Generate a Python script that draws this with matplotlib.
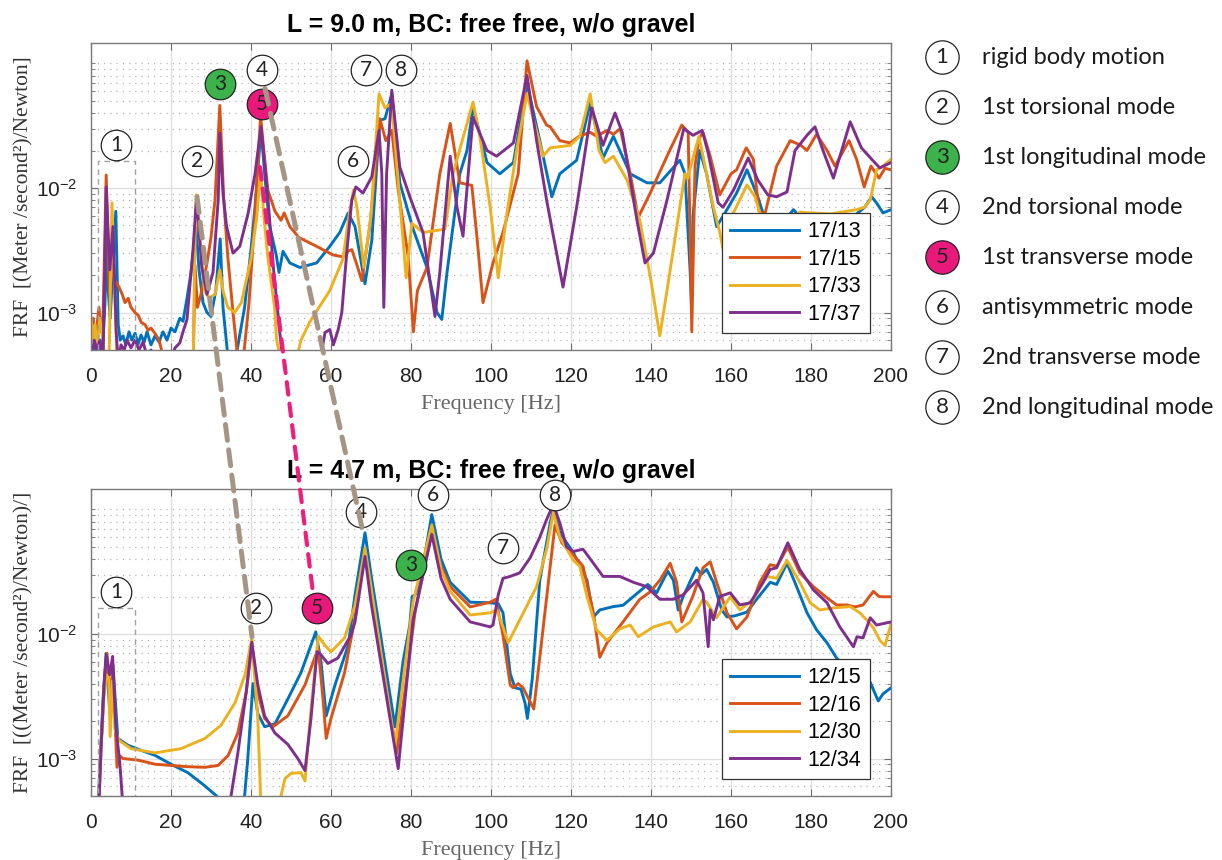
import numpy as np
import matplotlib.pyplot as plt
from matplotlib.lines import Line2D
from matplotlib.patches import ConnectionPatch

plt.rcParams['font.family'] = ['Liberation Sans', 'DejaVu Sans']
plt.rcParams['mathtext.fontset'] = 'custom'
plt.rcParams['mathtext.rm'] = 'Liberation Sans'
plt.rcParams['mathtext.it'] = 'Liberation Sans:italic'
plt.rcParams['mathtext.bf'] = 'Liberation Sans:bold'

# ---------------- data: top plot, L = 9.0 m ----------------
f_t13 = [0, 0.5, 1, 1.5, 2, 2.5, 3, 3.5, 3.9, 4.3, 4.8, 5.3, 6.2, 6.8, 7.3, 8, 8.7, 9.5, 10.2, 11, 11.8,
         12.5, 13.3, 14, 15, 16, 17, 18, 19, 20, 21, 22.2, 23, 24, 25, 26.3, 27, 28, 29, 30, 31.2, 32.3,
         33, 34.2, 36, 38.4, 40, 41, 42.5, 43.5, 44.7, 46.3, 47, 48, 49.7, 52.2, 56.4, 59.7, 62.2, 64.3,
         66, 68.5, 70.2, 72.2, 73.5, 75.2, 77.2, 80.6, 84, 86.5, 87.7, 89, 90.5, 92.2, 94, 95.5, 99,
         102.2, 105.6, 109, 112.2, 115.2, 117.2, 121.4, 124.8, 128, 130.6, 134.8, 139, 142.2, 147.2,
         148.5, 149.8, 150.1, 150.5, 152.2, 153.9, 156.4, 158.5, 161.4, 164, 166.7, 169, 172, 175.6,
         177, 180, 184, 188, 190.6, 193.4, 195.2, 196.5, 198, 200]
a_t13 = [0.0006, 0.0009, 0.0005, 0.0007, 0.00048, 0.0006, 0.0006, 0.0012, 0.005, 0.0015, 0.0009, 0.0018,
         0.0065, 0.0008, 0.0006, 0.00065, 0.00055, 0.0007, 0.0006, 0.00068, 0.00056, 0.00066, 0.00058,
         0.0007, 0.00055, 0.00065, 0.00058, 0.0007, 0.0006, 0.00075, 0.0007, 0.0009, 0.00085, 0.0013,
         0.0021, 0.0048, 0.0022, 0.0012, 0.001, 0.00093, 0.0015, 0.0039, 0.0011, 0.00045, 0.0004, 0.0011,
         0.0032, 0.007, 0.03, 0.012, 0.0049, 0.0029, 0.0021, 0.0031, 0.0025, 0.0023, 0.0025, 0.0034,
         0.0044, 0.0063, 0.0049, 0.0017, 0.0038, 0.035, 0.036, 0.057, 0.011, 0.0046, 0.0023, 0.001,
         0.00088, 0.0021, 0.0049, 0.013, 0.02, 0.045, 0.016, 0.013, 0.016, 0.069, 0.024, 0.0085, 0.013,
         0.0167, 0.048, 0.0174, 0.026, 0.013, 0.011, 0.011, 0.0167, 0.013, 0.0021, 0.0012, 0.006, 0.02,
         0.013, 0.0049, 0.0063, 0.0091, 0.014, 0.0085, 0.005, 0.0048, 0.0067, 0.006, 0.0062, 0.0058,
         0.006, 0.0059, 0.007, 0.0085, 0.0075, 0.0063, 0.0067]

f_t15 = [0, 0.5, 1, 1.5, 2, 2.5, 3, 3.8, 4.6, 5.2, 6, 7, 7.8, 8.5, 9.3, 10, 11, 11.8, 12.6, 13.5, 14.3,
         15, 16, 17, 18, 20, 25.5, 26, 26.6, 27.5, 29, 30, 31, 32.2, 33.2, 34.2, 35.5, 36.8, 38, 39.5,
         41, 42.4, 43.2, 44.2, 46, 47.5, 48.3, 49.7, 52, 56.4, 60.5, 63, 64.2, 65.2, 66.5, 67.7, 69.7,
         71, 72.2, 73.7, 75.2, 76.8, 79.3, 80.6, 81.6, 84, 87.2, 89.8, 92.2, 95.2, 96.5, 98, 100.5, 103,
         106.8, 109, 111.4, 113.9, 114.8, 117.2, 119.8, 122, 124.8, 126.4, 129, 130.6, 132.3, 134.8,
         136.8, 139.8, 144, 147.7, 149.3, 150.2, 151, 152, 153, 154.8, 157.2, 160, 161.4, 163.8, 165.6,
         167, 168.5, 171.4, 174.8, 177.5, 179, 181.4, 184, 186, 189.5, 191.4, 193.3, 195, 197, 198.5, 200]
a_t15 = [0.0007, 0.0009, 0.0006, 0.0008, 0.0011, 0.0007, 0.0009, 0.0127, 0.0014, 0.0022, 0.0018, 0.0016,
         0.0014, 0.0012, 0.0013, 0.0011, 0.001, 0.00095, 0.00083, 0.0008, 0.00072, 0.00075, 0.00068,
         0.0006, 0.00045, 0.0003, 0.0003, 0.0024, 0.0011, 0.0014, 0.0025, 0.004, 0.008, 0.046, 0.008,
         0.0028, 0.001, 0.0004, 0.0004, 0.0012, 0.006, 0.038, 0.02, 0.0096, 0.0065, 0.0055, 0.0063,
         0.0049, 0.004, 0.0034, 0.0029, 0.0028, 0.0031, 0.0032, 0.0024, 0.0018, 0.0049, 0.013, 0.036,
         0.024, 0.029, 0.0097, 0.0028, 0.0007, 0.0015, 0.0023, 0.013, 0.033, 0.011, 0.0105, 0.004,
         0.0012, 0.0025, 0.0044, 0.013, 0.105, 0.045, 0.032, 0.031, 0.024, 0.023, 0.026, 0.028, 0.026,
         0.029, 0.027, 0.03, 0.013, 0.0058, 0.0091, 0.018, 0.032, 0.028, 0.0007, 0.015, 0.025, 0.028,
         0.018, 0.0088, 0.013, 0.014, 0.021, 0.017, 0.0065, 0.0062, 0.015, 0.024, 0.022, 0.02, 0.027,
         0.02, 0.015, 0.024, 0.017, 0.0102, 0.015, 0.012, 0.0144, 0.014]

f_t33 = [0, 0.5, 1, 1.5, 2.2, 3, 3.5, 4.5, 5.25, 5.8, 6.5, 10, 25.5, 26, 26.3, 27.2, 28.4, 29.5, 31, 32.2,
         33, 34.2, 35.9, 37.6, 40, 41.5, 42.4, 43.2, 44.2, 45.9, 46.4, 47.6, 51.2, 52.5, 54.7, 57, 59.7,
         63, 64.5, 65.6, 66.5, 68.2, 70, 72, 73.5, 75.2, 76.4, 78.8, 80.2, 83, 87.2, 88.5, 90.5, 95.5,
         97.2, 99.8, 101.8, 104, 106.4, 109, 113, 114.8, 119.8, 122.2, 124.8, 127, 128.5, 130.6, 134,
         137.2, 140, 142.2, 144, 147.2, 148.5, 149.2, 150.4, 152, 153.9, 155.6, 157.2, 158.2, 160.6, 164,
         166, 167.2, 170, 173, 177.2, 180, 185, 191.4, 193.4, 194.8, 196.4, 198, 200]
a_t33 = [0.0009, 0.0006, 0.0008, 0.0005, 0.0009, 0.0006, 0.0004, 0.0004, 0.0076, 0.002, 0.0004, 0.0003,
         0.0003, 0.004, 0.0088, 0.0038, 0.0015, 0.0013, 0.0014, 0.0022, 0.0015, 0.0011, 0.001, 0.0012,
         0.0027, 0.006, 0.0145, 0.006, 0.0028, 0.0011, 0.0006, 0.0004, 0.0004, 0.0006, 0.00084, 0.0011,
         0.0015, 0.0027, 0.006, 0.0096, 0.007, 0.0023, 0.006, 0.057, 0.044, 0.048, 0.016, 0.0019, 0.0052,
         0.0044, 0.0046, 0.0047, 0.013, 0.049, 0.026, 0.007, 0.0019, 0.0063, 0.02, 0.057, 0.018, 0.021,
         0.022, 0.026, 0.057, 0.02, 0.016, 0.018, 0.0116, 0.0055, 0.0018, 0.00065, 0.0015, 0.007, 0.013,
         0.012, 0.017, 0.026, 0.013, 0.007, 0.0044, 0.003, 0.0063, 0.0106, 0.0085, 0.0063, 0.0045, 0.005,
         0.0064, 0.0063, 0.0062, 0.0067, 0.007, 0.008, 0.014, 0.015, 0.017]

f_t37 = [0, 0.8, 1.5, 2.2, 3, 3.8, 4.7, 5.5, 6.3, 6.8, 7.5, 8.3, 9, 10, 11, 12, 13, 14, 15, 16, 19.7, 21,
         22.2, 23, 24, 25.5, 26.4, 27.7, 29, 30.5, 31.8, 32.2, 33, 33.9, 35.5, 37.2, 39.3, 41, 42.5, 44,
         45.6, 47.2, 48, 57.2, 58.5, 59.7, 60.6, 61.8, 62.7, 64, 65.2, 66.2, 68, 70.2, 72, 72.7, 73.2,
         73.9, 75.2, 77.2, 79.7, 83, 86, 87.2, 89.8, 91.5, 93, 95.5, 99, 101.4, 105.6, 109, 111.4, 113.9,
         118, 121.4, 125.2, 128, 131, 132.8, 136.5, 138.5, 140.6, 144, 148.2, 150.5, 152.8, 154.3, 156.8,
         158, 160.6, 164.3, 166.7, 169.2, 171.4, 174, 176, 179, 181, 183, 185.6, 189.8, 192.6, 195.4,
         197.2, 200]
a_t37 = [0.0004, 0.0006, 0.0005, 0.0006, 0.0004, 0.0102, 0.0022, 0.0049, 0.0007, 0.0004, 0.00055, 0.0005,
         0.0006, 0.00052, 0.0006, 0.0005, 0.00058, 0.00045, 0.0005, 0.0004, 0.0004, 0.00052, 0.00057,
         0.0007, 0.00088, 0.0032, 0.0085, 0.0023, 0.0014, 0.0021, 0.008, 0.0275, 0.009, 0.0049, 0.003,
         0.0034, 0.0063, 0.013, 0.031, 0.0102, 0.0023, 0.00069, 0.0004, 0.0004, 0.00069, 0.00073,
         0.00055, 0.00073, 0.001, 0.0032, 0.008, 0.0102, 0.0091, 0.0123, 0.029, 0.013, 0.0011, 0.013,
         0.061, 0.0147, 0.0085, 0.0044, 0.00093, 0.0021, 0.018, 0.007, 0.0041, 0.037, 0.02, 0.018, 0.023,
         0.08, 0.024, 0.008, 0.0016, 0.007, 0.044, 0.022, 0.04, 0.028, 0.0055, 0.0025, 0.003, 0.008,
         0.03, 0.0265, 0.029, 0.019, 0.0076, 0.007, 0.0096, 0.0174, 0.0116, 0.0088, 0.0085, 0.0093, 0.02,
         0.0265, 0.031, 0.02, 0.012, 0.034, 0.021, 0.0167, 0.0145, 0.016]

# ---------------- data: bottom plot, L = 4.7 m ----------------
f_b15 = [0, 1.5, 2, 3, 3.8, 4.7, 5.5, 6.7, 9.2, 12, 16, 20, 24.2, 28, 31.4, 33, 37.5, 38.4, 39.2, 40.5,
         41.7, 43.4, 46, 49.2, 52.5, 56.2, 57.5, 58.8, 61, 64.3, 66, 68.5, 70, 76, 78, 79.7, 80.3, 81,
         82.2, 85.2, 87.5, 89.8, 94.8, 99.8, 101.8, 103, 104.8, 106, 107.5, 108.5, 109.1, 110.3, 112.2,
         114.8, 115.6, 117.2, 120.6, 124, 125.6, 127.2, 130.6, 133, 135.6, 139.2, 141.4, 144.2, 145.6,
         146.8, 148, 151.4, 152.5, 153.9, 155.6, 157.7, 159, 161, 164, 166.4, 169.8, 171.4, 174, 176.4,
         179, 181.4, 184, 186.4, 190, 194.8, 196.8, 198, 200]
a_b15 = [0.0003, 0.0003, 0.0006, 0.003, 0.007, 0.0023, 0.0056, 0.00145, 0.00128, 0.00118, 0.00106, 0.0009,
         0.00077, 0.00062, 0.0005, 0.0004, 0.0004, 0.0005, 0.001, 0.004, 0.0023, 0.0018, 0.0019, 0.003,
         0.0049, 0.0104, 0.006, 0.0022, 0.0039, 0.0081, 0.0206, 0.065, 0.03, 0.0018, 0.006, 0.0118, 0.02,
         0.0206, 0.025, 0.091, 0.04, 0.026, 0.018, 0.0178, 0.0175, 0.0148, 0.0048, 0.0037, 0.0036, 0.0028,
         0.0021, 0.0043, 0.027, 0.078, 0.1, 0.065, 0.045, 0.027, 0.0137, 0.0156, 0.0166, 0.017, 0.02,
         0.025, 0.0214, 0.032, 0.027, 0.0156, 0.0199, 0.034, 0.03, 0.033, 0.026, 0.0156, 0.0137, 0.014,
         0.015, 0.019, 0.026, 0.025, 0.037, 0.024, 0.0148, 0.0108, 0.0085, 0.0064, 0.005, 0.0041, 0.0029,
         0.0033, 0.0037]

f_b16 = [0, 1.8, 2.5, 3.3, 4, 4.7, 5.5, 6.5, 7.2, 8, 11.8, 16, 20, 24, 28.5, 31.8, 34.3, 36.7, 38.8, 40.2,
         41.7, 43.4, 45.5, 49.2, 53.5, 56.8, 58, 58.8, 60, 63.4, 66, 68.5, 70, 76.4, 78.5, 81, 83, 85.2,
         87.5, 89.8, 94.8, 99.8, 101.2, 103, 104.8, 105.5, 106.8, 108, 110.7, 112.2, 114.8, 116, 117.7,
         120.6, 123, 125.6, 127.2, 129, 133, 137.2, 139.8, 142.2, 144.8, 146.4, 147.7, 150.4, 153, 154.8,
         156.4, 159, 161.4, 164, 167.2, 169.8, 171.5, 174.2, 177.2, 180.6, 184, 186.4, 189, 191, 193,
         195.6, 197, 198, 200]
a_b16 = [0.0003, 0.0003, 0.0012, 0.004, 0.007, 0.0035, 0.0048, 0.00085, 0.00105, 0.001, 0.00097, 0.0009,
         0.00088, 0.00086, 0.00085, 0.00088, 0.00106, 0.0016, 0.0034, 0.0081, 0.0034, 0.0021, 0.0018,
         0.0022, 0.0039, 0.0077, 0.003, 0.00145, 0.0021, 0.0049, 0.0135, 0.045, 0.022, 0.0011, 0.0035,
         0.0148, 0.03, 0.067, 0.035, 0.024, 0.0165, 0.018, 0.019, 0.0098, 0.0039, 0.0037, 0.004, 0.0037,
         0.0025, 0.0065, 0.035, 0.075, 0.054, 0.043, 0.035, 0.0148, 0.0065, 0.0085, 0.0125, 0.019, 0.0218,
         0.027, 0.037, 0.026, 0.0125, 0.0199, 0.034, 0.038, 0.026, 0.0148, 0.011, 0.0137, 0.026, 0.036,
         0.035, 0.05, 0.031, 0.024, 0.0195, 0.0171, 0.0171, 0.0165, 0.0171, 0.022, 0.02, 0.0199, 0.0199]

f_b30 = [0, 1.8, 2.5, 3.2, 3.8, 4.4, 4.8, 5.3, 6, 7, 10, 16, 22.5, 28.5, 32.5, 36, 38.5, 40.2, 41.7, 42.5,
         46.8, 48.5, 50, 52.5, 53.5, 54.8, 56.8, 58.5, 60, 63.4, 66, 68.5, 70, 76, 80.5, 85.2, 87.5, 89.8,
         94.8, 99.8, 101.4, 103, 104.3, 107.2, 111.4, 113.9, 115.6, 117.2, 120.6, 122.2, 124, 126.4, 129,
         132.2, 134.8, 136.8, 140.6, 144.8, 146.4, 149.8, 153, 153.9, 156.4, 159.8, 162.2, 165.6, 169,
         171.4, 174, 177.2, 179.8, 182.2, 185.6, 189.8, 192.2, 193.9, 195.6, 197.2, 198.5, 200]
a_b30 = [0.0003, 0.0004, 0.0012, 0.003, 0.0047, 0.0045, 0.0015, 0.0042, 0.0017, 0.0014, 0.0012, 0.00111,
         0.0012, 0.00145, 0.00185, 0.0028, 0.0047, 0.0093, 0.0021, 0.0004, 0.0004, 0.00069, 0.00076,
         0.00077, 0.00066, 0.0021, 0.0096, 0.0081, 0.0072, 0.0093, 0.017, 0.049, 0.024, 0.00127, 0.018,
         0.075, 0.033, 0.022, 0.0142, 0.0148, 0.0156, 0.0114, 0.0085, 0.013, 0.024, 0.048, 0.095, 0.06,
         0.039, 0.035, 0.02, 0.0108, 0.0089, 0.011, 0.0118, 0.0095, 0.0114, 0.0125, 0.0104, 0.0125, 0.019,
         0.018, 0.0135, 0.0199, 0.0156, 0.019, 0.029, 0.028, 0.039, 0.026, 0.0178, 0.0156, 0.0162, 0.0166,
         0.0148, 0.013, 0.0112, 0.0089, 0.0081, 0.012]

f_b34 = [0, 1.8, 2.5, 3.3, 3.8, 4.7, 5.4, 6.2, 7.2, 8, 34.3, 35, 36.7, 38.8, 40.2, 41.7, 43.4, 46, 49.2,
         51.7, 53.5, 55, 56.5, 57.5, 59.2, 61.7, 65, 66, 68.5, 70, 76.8, 80.5, 85.2, 87.5, 89.8, 94.8,
         99.8, 100.5, 101.8, 103, 104.8, 107.2, 109.8, 112.2, 113.9, 115.6, 117.2, 118.9, 120.6, 123,
         125.6, 128, 132.2, 135.6, 138.9, 142.2, 145.6, 148, 151.4, 153, 154.3, 154.8, 155.6, 157.2,
         159.8, 162.2, 164.8, 168, 169.8, 171.4, 174.2, 177.2, 180.6, 184, 187.2, 190.6, 191.5, 193,
         194.8, 196.4, 200]
a_b34 = [0.0003, 0.0003, 0.0012, 0.004, 0.0068, 0.0047, 0.0066, 0.0018, 0.00093, 0.0004, 0.0004, 0.0005,
         0.0011, 0.0034, 0.0086, 0.0039, 0.0022, 0.0016, 0.0013, 0.001, 0.0008, 0.0021, 0.0072, 0.0068,
         0.0058, 0.0064, 0.0098, 0.0125, 0.042, 0.018, 0.00083, 0.013, 0.063, 0.028, 0.019, 0.0125,
         0.0114, 0.0118, 0.0206, 0.028, 0.029, 0.031, 0.041, 0.06, 0.083, 0.11, 0.078, 0.05, 0.046, 0.048,
         0.037, 0.029, 0.029, 0.026, 0.024, 0.019, 0.019, 0.0206, 0.027, 0.0214, 0.0079, 0.0156, 0.013,
         0.02, 0.0214, 0.0171, 0.0178, 0.026, 0.033, 0.034, 0.054, 0.033, 0.0226, 0.0178, 0.0114, 0.0079,
         0.0095, 0.0093, 0.0135, 0.0118, 0.0125]

top_series = [('17/13', f_t13, a_t13), ('17/15', f_t15, a_t15),
              ('17/33', f_t33, a_t33), ('17/37', f_t37, a_t37)]
bot_series = [('12/15', f_b15, a_b15), ('12/16', f_b16, a_b16),
              ('12/30', f_b30, a_b30), ('12/34', f_b34, a_b34)]

# mode labels: (number, frequency, FRF level of the marker)
top_modes = [('1', 6.25, 0.0221), ('2', 26.5, 0.0164), ('3', 32.25, 0.069), ('4', 42.75, 0.088),
             ('5', 42.75, 0.047), ('6', 65.5, 0.0164), ('7', 68.75, 0.088), ('8', 77.5, 0.088)]
bot_modes = [('1', 6.25, 0.0218), ('2', 41.25, 0.0162), ('5', 56.5, 0.0162), ('4', 67.5, 0.096),
             ('3', 80.0, 0.036), ('6', 85.5, 0.13), ('7', 103.0, 0.049), ('8', 116.0, 0.13)]
mode_names = ['rigid body motion', '1st torsional mode', '1st longitudinal mode', '2nd torsional mode',
              '1st transverse mode', 'antisymmetric mode', '2nd transverse mode', '2nd longitudinal mode']

colors = ['#0072BD', '#D95319', '#EDB120', '#7E2F8E']
fill = {'3': '#3cb34a', '5': '#e8197a'}

W, H = 1222, 860
fig = plt.figure(figsize=(W / 100, H / 100), dpi=100)
ax1 = fig.add_axes([91 / W, 1 - 350 / H, 800 / W, 307 / H])
ax2 = fig.add_axes([91 / W, 1 - 796 / H, 800 / W, 307 / H])


def setup(ax, series, title, ylabel, modes):
    for (lab, f, a), c in zip(series, colors):
        ax.plot(f, a, color=c, lw=2.1, label=lab)
    ax.set_yscale('log')
    ax.set_xlim(0, 200)
    ax.set_ylim(5e-4, 0.146)
    ax.set_xticks(np.arange(0, 201, 20))
    ax.set_yticks([1e-3, 1e-2])
    ax.set_yticklabels([r'$10^{-3}$', r'$10^{-2}$'])
    minor = [k * 10.0 ** e for e in (-4, -3, -2) for k in range(2, 10) if k * 10.0 ** e >= 5e-4] + [0.1]
    ax.set_yticks(minor, minor=True)
    ax.yaxis.set_minor_formatter(plt.NullFormatter())
    ax.grid(True, which='major', color='#dedede', lw=0.9)
    ax.grid(True, which='minor', axis='y', color='#b5b5b5', lw=0.9, ls=(0, (1, 4)))
    ax.set_axisbelow(True)
    ax.tick_params(which='both', direction='in', top=True, right=True, color='#6e6e6e')
    ax.tick_params(which='major', length=5, labelsize=15, labelcolor='#222222')
    ax.tick_params(axis='x', pad=12)
    ax.tick_params(axis='y', pad=10)
    ax.tick_params(which='minor', length=3)
    for s in ax.spines.values():
        s.set_color('#7a7a7a')
        s.set_linewidth(1.0)
    ax.set_title(title, fontsize=18, fontweight='bold', pad=8)
    ax.set_ylabel(ylabel, family='Liberation Serif', fontsize=15.5, color='#333333')
    ax.yaxis.set_label_coords(-0.072, 0.5)
    ax.set_xlabel('Frequency [Hz]', family='Liberation Serif', fontsize=16, color='#666666')
    ax.xaxis.set_label_coords(0.5, -0.145)
    leg = ax.legend(loc='lower right', bbox_to_anchor=(0.974, 0.055), borderaxespad=0,
                    fontsize=15.5, handlelength=3.2, labelspacing=0.3, borderpad=0.4,
                    handletextpad=0.4, fancybox=False, edgecolor='#333333', framealpha=1)
    leg.get_frame().set_linewidth(0.9)
    # dashed box around rigid body region
    ax.plot([1.75, 1.75, 11, 11], [1e-4, modes[0][2] * 0.74, modes[0][2] * 0.74, 1e-4],
            color='#a0a0a0', lw=1, ls=(0, (4, 3)), zorder=3)
    for num, x, y in modes:
        ax.plot([x], [y], 'o', ms=22, mfc=fill.get(num, 'white'), mec='#222222', mew=0.9,
                clip_on=False, zorder=6)
        ax.text(x, y, num, ha='center', va='center', fontsize=15, family='Lato',
                color='#222222', zorder=7, clip_on=False)


setup(ax1, top_series, 'L = 9.0 m, BC: free free, w/o gravel',
      'FRF  [(Meter /second\u00b2)/Newton]', top_modes)
setup(ax2, bot_series, 'L = 4.7 m, BC: free free, w/o gravel',
      'FRF  [((Meter /second\u00b2)/Newton)/]', bot_modes)

# dashed links between the same modes in both plots
links = [((26.5, 0.0085), (40.25, 0.0095), '#a69585', 3.6, (0, (3.2, 1.9))),
         ((42.25, 0.0147), (55.5, 0.0214), '#ee1f7c', 3.0, (0, (3.0, 2.2))),
         ((43.5, 0.063), (67.75, 0.0716), '#a69585', 3.6, (0, (3.2, 1.9)))]
for pa, pb, c, lw, ls in links:
    con = ConnectionPatch(xyA=pa, coordsA=ax1.transData, xyB=pb, coordsB=ax2.transData,
                          color=c, lw=lw, ls=ls, zorder=10)
    fig.add_artist(con)

# mode key on the right
for i, name in enumerate(mode_names):
    num = str(i + 1)
    yc = 1 - (57 + 50 * i) / H
    fig.add_artist(Line2D([942 / W], [yc], marker='o', ms=24, mfc=fill.get(num, 'white'),
                          mec='#222222', mew=0.9, transform=fig.transFigure))
    fig.text(942 / W, yc, num, ha='center', va='center', fontsize=16, family='Lato', color='#222222')
    fig.text(982 / W, yc, name, ha='left', va='center', fontsize=17, family='Lato', color='#1a1a1a')

fig.savefig('out.png', dpi=100)
